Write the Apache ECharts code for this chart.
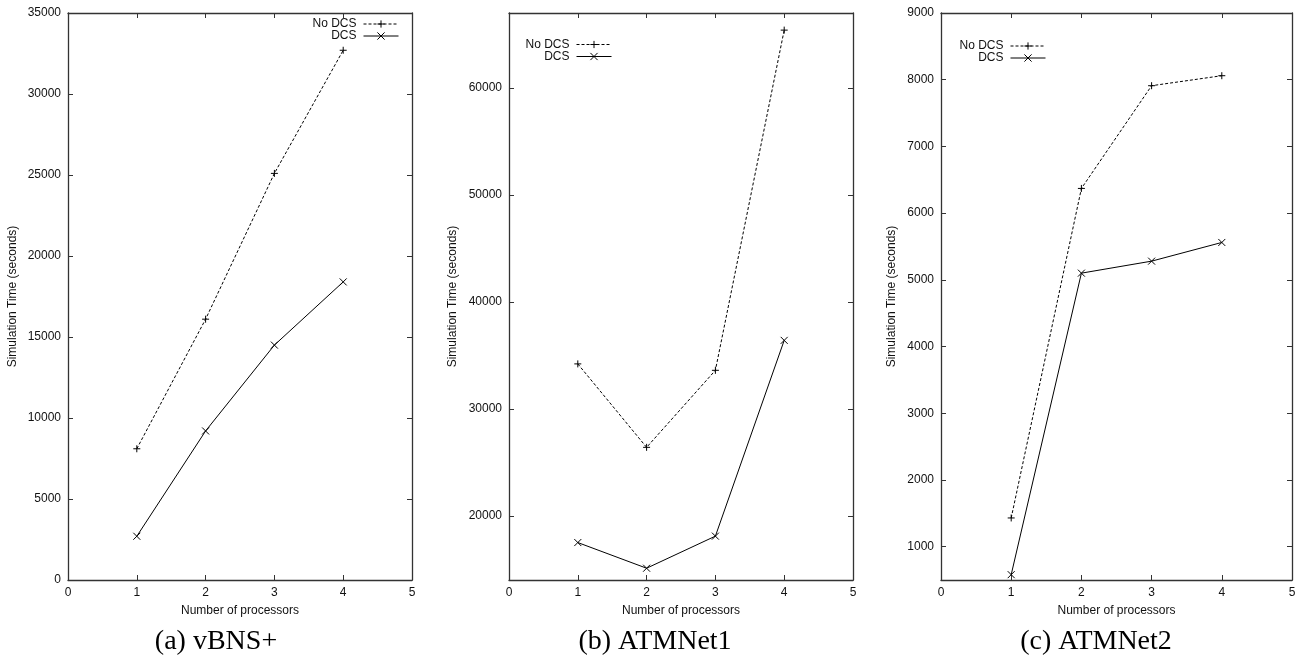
<!DOCTYPE html>
<html>
<head>
<meta charset="utf-8">
<script src="https://cdn.jsdelivr.net/npm/echarts@6/dist/echarts.min.js"></script>
<style>
html,body{margin:0;padding:0;background:#fff;}
#c{width:1305px;height:660px;}
</style>
</head>
<body>
<div id="c"></div>
<script>
// ---- data ----
const processors = [1, 2, 3, 4];
const seriesNames = ['No DCS', 'DCS'];
const captions = ['(a) vBNS+', '(b) ATMNet1', '(c) ATMNet2'];
const xLabel = 'Number of processors';
const yLabel = 'Simulation Time (seconds)';

const vbnsNoDcs = [8100, 16100, 25100, 32700];
const vbnsDcs = [2700, 9200, 14500, 18400];
const atm1NoDcs = [34200, 26400, 33600, 65400];
const atm1Dcs = [17500, 15100, 18100, 36400];
const atm2NoDcs = [1430, 6370, 7910, 8060];
const atm2Dcs = [580, 5100, 5280, 5560];

const xTicks = [0, 1, 2, 3, 4, 5];
const yTicksA = [0, 5000, 10000, 15000, 20000, 25000, 30000, 35000];
const yTicksB = [20000, 30000, 40000, 50000, 60000];
const yTicksC = [1000, 2000, 3000, 4000, 5000, 6000, 7000, 8000, 9000];
const yRangeA = [0, 35000];
const yRangeB = [14000, 67000];
const yRangeC = [500, 9000];

// ---- layout ----
const panels = [
  {grid: {left: 68, top: 13, width: 344, height: 567}, range: yRangeA, ticks: yTicksA,
   noDcs: vbnsNoDcs, dcs: vbnsDcs, nameGap: 49, legend: {right: 1305 - 399, top: 18}, cap: 216},
  {grid: {left: 509, top: 13, width: 344, height: 567}, range: yRangeB, ticks: yTicksB,
   noDcs: atm1NoDcs, dcs: atm1Dcs, nameGap: 50, legend: {right: 1305 - 612, top: 38.5}, cap: 655},
  {grid: {left: 941, top: 13, width: 351, height: 567}, range: yRangeC, ticks: yTicksC,
   noDcs: atm2NoDcs, dcs: atm2Dcs, nameGap: 43, legend: {right: 1305 - 1046, top: 40}, cap: 1096}
];

const FONT = '"Liberation Sans", Arial, Helvetica, sans-serif';
const axisCol = '#333';
const textCol = '#111';
const plusPath = 'path://M0,5L10,5M5,0L5,10';
const crossPath = 'path://M0,0L10,10M10,0L0,10';
const plain = v => String(v);

const option = {
  animation: false,
  backgroundColor: '#fff',
  textStyle: {fontFamily: FONT},
  grid: [], xAxis: [], yAxis: [], series: [], legend: [], graphic: []
};

panels.forEach((p, i) => {
  option.grid.push(Object.assign({containLabel: false}, p.grid));
  const xb = {
    type: 'value', gridIndex: i, min: 0, max: 5, interval: 1, position: 'bottom',
    name: xLabel, nameLocation: 'middle', nameGap: 25,
    nameTextStyle: {fontSize: 12, color: textCol, fontFamily: FONT},
    axisLine: {show: true, onZero: false, lineStyle: {color: axisCol, width: 1.3}},
    axisTick: {show: true, inside: true, length: 5, lineStyle: {color: axisCol}},
    axisLabel: {show: true, fontSize: 12, color: textCol, margin: 7, fontFamily: FONT,
      customValues: xTicks, formatter: plain},
    splitLine: {show: false}
  };
  const xt = {
    type: 'value', gridIndex: i, min: 0, max: 5, interval: 1, position: 'top',
    axisLine: {show: true, onZero: false, lineStyle: {color: axisCol, width: 1.3}},
    axisTick: {show: true, inside: true, length: 5, lineStyle: {color: axisCol}},
    axisLabel: {show: false}, splitLine: {show: false}
  };
  option.xAxis.push(xb, xt);
  const yl = {
    type: 'value', gridIndex: i, min: p.range[0], max: p.range[1], position: 'left',
    name: yLabel, nameLocation: 'middle', nameRotate: 90, nameGap: p.nameGap,
    nameTextStyle: {fontSize: 12, color: textCol, fontFamily: FONT},
    axisLine: {show: true, onZero: false, lineStyle: {color: axisCol, width: 1.3}},
    axisTick: {show: true, inside: true, length: 5, lineStyle: {color: axisCol}, customValues: p.ticks},
    axisLabel: {show: true, fontSize: 12, color: textCol, margin: 7, fontFamily: FONT,
      customValues: p.ticks, formatter: plain},
    splitLine: {show: false}
  };
  const yr = {
    type: 'value', gridIndex: i, min: p.range[0], max: p.range[1], position: 'right',
    axisLine: {show: true, onZero: false, lineStyle: {color: axisCol, width: 1.3}},
    axisTick: {show: true, inside: true, length: 5, lineStyle: {color: axisCol}, customValues: p.ticks},
    axisLabel: {show: false, customValues: p.ticks}, splitLine: {show: false}
  };
  option.yAxis.push(yl, yr);

  const mk = (name, vals, dashed, sym) => ({
    type: 'line', name: name, xAxisIndex: 2 * i, yAxisIndex: 2 * i,
    data: processors.map((x, k) => [x, vals[k]]),
    symbol: sym, symbolSize: 7, showSymbol: true,
    lineStyle: {color: '#000', width: 1, type: dashed ? [3, 2] : 'solid'},
    itemStyle: {color: '#000', borderColor: '#000', borderWidth: 1},
    emphasis: {disabled: true}
  });
  option.series.push(mk(seriesNames[0], p.noDcs, true, plusPath));
  option.series.push(mk(seriesNames[1], p.dcs, false, crossPath));

  option.legend.push({
    orient: 'vertical', align: 'right', right: p.legend.right, top: p.legend.top,
    itemWidth: 35, itemHeight: 9, itemGap: 0, selectedMode: false, padding: 0,
    data: seriesNames,
    itemStyle: {borderWidth: 1},
    lineStyle: {width: 1},
    textStyle: {fontSize: 12, lineHeight: 12, color: textCol, fontFamily: FONT, padding: [0, 2, 0, 0]}
  });

  option.graphic.push({
    type: 'text', x: p.cap, y: 642,
    style: {text: captions[i], textAlign: 'center', textVerticalAlign: 'middle',
      font: '28px "Liberation Serif", "Times New Roman", serif', fill: '#000'}
  });
});

const chart = echarts.init(document.getElementById('c'), null, {renderer: 'canvas'});
chart.setOption(option);
</script>
</body>
</html>
